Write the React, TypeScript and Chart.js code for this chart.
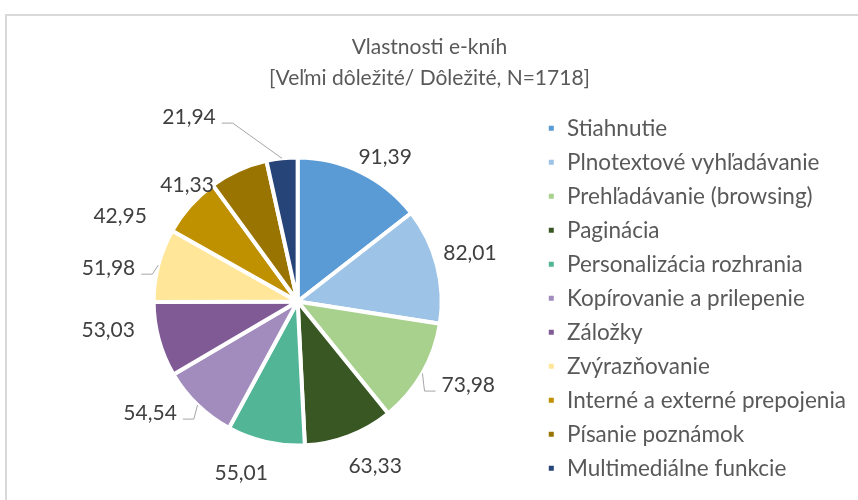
import React, { useEffect, useRef } from "react";
import { Chart, registerables } from "chart.js";

Chart.register(...registerables);

const categories = [
  "Stiahnutie",
  "Plnotextové vyhľadávanie",
  "Prehľadávanie (browsing)",
  "Paginácia",
  "Personalizácia rozhrania",
  "Kopírovanie a prilepenie",
  "Záložky",
  "Zvýrazňovanie",
  "Interné a externé prepojenia",
  "Písanie poznámok",
  "Multimediálne funkcie",
];

const values = [91.39, 82.01, 73.98, 63.33, 55.01, 54.54, 53.03, 51.98, 42.95, 41.33, 21.94];

const titleLines = ["Vlastnosti e-kníh", "[Veľmi dôležité/ Dôležité, N=1718]"];

const colors = [
  "#5B9BD5",
  "#9DC3E6",
  "#A9D18E",
  "#385723",
  "#52B596",
  "#A28CBD",
  "#805A95",
  "#FFE699",
  "#BF9000",
  "#9A7400",
  "#264478",
];

// label placement: [angle from top (deg, clockwise), distance from centre (px), leader line]
const labelPlacement: [number, number, boolean][] = [
  [31.2, 169, false],
  [74.3, 179, false],
  [116.1, 190, true],
  [154.8, 182, false],
  [198.2, 180.6, false],
  [232.9, 185, true],
  [261.4, 191.6, false],
  [280, 192, true],
  [295.7, 197, false],
  [316.5, 160.6, false],
  [329.5, 214, true],
];

const FONT = "Lato, 'Open Sans', sans-serif";

const fmt = (v: number) => v.toFixed(2).replace(".", ",");

const titlePlugin = {
  id: "centeredTitle",
  afterDraw(chart: any) {
    const ctx = chart.ctx;
    ctx.save();
    ctx.font = `21px ${FONT}`;
    ctx.fillStyle = "#595959";
    ctx.textAlign = "center";
    ctx.textBaseline = "middle";
    titleLines.forEach((line, i) => {
      ctx.fillText(line, chart.width / 2 + 0.5, 47 + i * 31);
    });
    ctx.restore();
  },
};

const labelsPlugin = {
  id: "outerLabels",
  afterDatasetsDraw(chart: any) {
    const meta = chart.getDatasetMeta(0);
    const ctx = chart.ctx;
    ctx.save();
    ctx.font = `21px ${FONT}`;
    ctx.textBaseline = "middle";
    ctx.textAlign = "center";
    meta.data.forEach((arc: any, i: number) => {
      const { x, y, startAngle, endAngle, outerRadius } = arc.getProps(
        ["x", "y", "startAngle", "endAngle", "outerRadius"],
        true
      );
      const [angDeg, dist, leader] = labelPlacement[i];
      const a = (angDeg * Math.PI) / 180;
      const lx = x + dist * Math.sin(a);
      const ly = y - dist * Math.cos(a);
      const text = fmt(values[i]);
      const w = ctx.measureText(text).width;
      ctx.fillStyle = "#404040";
      ctx.fillText(text, lx, ly);
      if (leader) {
        const mid = (startAngle + endAngle) / 2;
        const ax = x + outerRadius * Math.cos(mid);
        const ay = y + outerRadius * Math.sin(mid);
        const side = ax > lx ? 1 : -1;
        const edge = lx + side * (w / 2);
        const cx = edge + side * 6;
        const bx = cx + side * 11;
        const by = ly + 6;
        ctx.strokeStyle = "#A6A6A6";
        ctx.lineWidth = 1;
        ctx.beginPath();
        ctx.moveTo(ax, ay);
        ctx.lineTo(bx, by);
        ctx.lineTo(cx, by);
        ctx.stroke();
      }
    });
    ctx.restore();
  },
};

export default function App() {
  const ref = useRef<HTMLCanvasElement | null>(null);

  useEffect(() => {
    if (!ref.current) return;
    const chart = new Chart(ref.current, {
      type: "pie",
      data: {
        labels: categories,
        datasets: [
          {
            data: values,
            backgroundColor: colors,
            borderColor: "#FFFFFF",
            borderWidth: 4,
            hoverOffset: 0,
          },
        ],
      },
      options: {
        responsive: false,
        animation: false,
        devicePixelRatio: 1,
        radius: 144,
        layout: { padding: { left: 60, right: 2, top: 105.5, bottom: 2.5 } },
        plugins: {
          tooltip: { enabled: false },
          title: { display: false },
          legend: {
            display: true,
            position: "right",
            align: "start",
            fullSize: false,
            labels: {
              boxWidth: 9,
              boxHeight: 9,
              padding: 11.5,
              color: "#595959",
              font: { family: FONT, size: 22.5 },
            },
          },
        },
      } as any,
      plugins: [labelsPlugin, titlePlugin],
    });
    return () => chart.destroy();
  }, []);

  return (
    <div style={{ position: "fixed", left: 0, top: 0, width: 858, height: 500, overflow: "hidden", background: "#fff" }}>
      <div
        style={{
          position: "absolute",
          left: 5,
          top: 14,
          width: 900,
          height: 600,
          border: "2px solid #D9D9D9",
          boxSizing: "border-box",
        }}
      />
      <canvas ref={ref} width={858} height={500} style={{ position: "absolute", left: 0, top: 0 }} />
    </div>
  );
}
